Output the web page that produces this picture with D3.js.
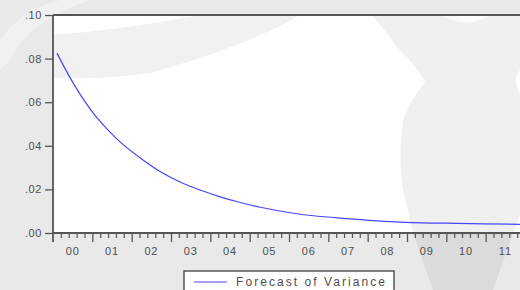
<!DOCTYPE html>
<html><head><meta charset="utf-8">
<script src="https://cdn.jsdelivr.net/npm/d3@7"></script>
<style>html,body{margin:0;padding:0;overflow:hidden;background:#e9e9e9}</style>
</head><body><svg id="c" width="520" height="290"></svg>
<script>
// ---- data ----
const periods  = [2000.10,2000.43,2000.77,2001.11,2001.62,2002.21,2002.72,2003.23,2003.74,2004.25,2004.76,2005.27,2006.03,2006.62,2007.56,2008.12,2008.96,2010.28,2011.88];
const variance = [0.0825,0.0714,0.0614,0.0530,0.0432,0.0345,0.0282,0.0234,0.0197,0.0166,0.0140,0.0118,0.0093,0.0079,0.0065,0.0057,0.0049,0.0044,0.0040];
const years = [2000,2001,2002,2003,2004,2005,2006,2007,2008,2009,2010,2011];
const yearLabels = ["00","01","02","03","04","05","06","07","08","09","10","11"];
const yTicks = [0,0.02,0.04,0.06,0.08,0.10];
const yTickLabels = [".00",".02",".04",".06",".08",".10"];
const seriesName = "Forecast of Variance";

// ---- layout ----
const L = 53, T = 15, B = 233, R = 525;
const svg = d3.select("#c");
const x = d3.scaleLinear().domain([2000, 2012]).range([L, R]);
const y = d3.scaleLinear().domain([0, 0.10]).range([B, T]);
const textCol = "#4f4f4f", axisCol = "#555";

svg.append("rect").attr("width",520).attr("height",290).attr("fill","#e9e9e9");
svg.append("path").attr("d","M0,40 Q20,10 60,0 L90,0 Q30,20 10,60 L0,70 Z").attr("fill","#f1f1f1");

svg.append("rect").attr("x",L).attr("y",T).attr("width",R-L).attr("height",B-T).attr("fill","#fff");
svg.append("clipPath").attr("id","pc").append("rect").attr("x",L).attr("y",T).attr("width",R-L).attr("height",B-T);
const wm = svg.append("g").attr("clip-path","url(#pc)");
wm.append("path").attr("d","M53,35 Q120,30 200,15 L300,15 Q250,45 150,73 Q100,80 53,78 Z").attr("fill","#f1f1f1");
svg.append("path")
  .attr("d","M372,15 Q385,30 395,45 Q420,70 425,82 Q410,100 403,120 Q398,160 403,190 L413,233 L433,290 L493,290 L513,233 L520,215 L520,95 Q512,80 520,70 L520,15 Z")
  .attr("fill","#000").attr("fill-opacity",0.06);
svg.append("path").attr("d","M440,15 Q468,30 490,15 Z").attr("fill","#fff").attr("fill-opacity",0.7);

// ---- axes ----
const yAxis = d3.axisLeft(y).tickValues(yTicks).tickSize(8).tickPadding(3)
  .tickFormat((d,i)=>yTickLabels[i]);
const gy = svg.append("g").attr("transform",`translate(${L},0)`).call(yAxis);
gy.select(".domain").remove();
gy.selectAll(".tick line").attr("stroke",axisCol).attr("stroke-width",1.3);
gy.selectAll(".tick text").attr("fill",textCol).attr("font-family","Liberation Sans, Arial, sans-serif")
  .attr("font-size",11).attr("letter-spacing","0.6px");

const minor = d3.range(0, 60).map(i=>2000+i*0.2).filter(v=>Math.abs(v-Math.round(v))>1e-6);
const gxm = svg.append("g").attr("transform",`translate(0,${B})`)
  .call(d3.axisBottom(x).tickValues(minor).tickSize(5).tickFormat(""));
gxm.select(".domain").remove();
gxm.selectAll(".tick line").attr("stroke",axisCol).attr("stroke-width",1.2);
const gx = svg.append("g").attr("transform",`translate(0,${B})`)
  .call(d3.axisBottom(x).tickValues(years.slice(1)).tickSize(9).tickFormat(""));
gx.select(".domain").remove();
gx.selectAll(".tick line").attr("stroke",axisCol).attr("stroke-width",1.3);

svg.append("g").selectAll("text").data(years).join("text")
  .attr("x",d=>x(d+0.5)).attr("y",B+22).attr("text-anchor","middle")
  .attr("fill",textCol).attr("font-family","Liberation Sans, Arial, sans-serif")
  .attr("font-size",11).attr("letter-spacing","0.8px")
  .text((d,i)=>yearLabels[i]);

svg.append("line").attr("x1",L).attr("x2",L).attr("y1",T).attr("y2",B+9).attr("stroke",axisCol).attr("stroke-width",1.8);
svg.append("line").attr("x1",L).attr("x2",R).attr("y1",B).attr("y2",B).attr("stroke",axisCol).attr("stroke-width",1.8);
svg.append("line").attr("x1",L).attr("x2",R).attr("y1",T).attr("y2",T).attr("stroke",axisCol).attr("stroke-width",1.8);

// ---- series ----
const pts = periods.map((p,i)=>[p, variance[i]]);
svg.append("path").datum(pts)
  .attr("d", d3.line().x(d=>x(d[0])).y(d=>y(d[1])).curve(d3.curveCatmullRom.alpha(0.5)))
  .attr("fill","none").attr("stroke","#4646ff").attr("stroke-width",1.2);

// ---- legend ----
const lg = svg.append("g");
lg.append("rect").attr("x",184).attr("y",271).attr("width",210).attr("height",30)
  .attr("fill","#fff").attr("stroke",axisCol).attr("stroke-width",1.5);
lg.append("line").attr("x1",194).attr("x2",227).attr("y1",282).attr("y2",282)
  .attr("stroke","#4646ff").attr("stroke-width",1.2);
lg.append("text").attr("x",236).attr("y",286).attr("fill",textCol)
  .attr("font-family","Liberation Sans, Arial, sans-serif").attr("font-size",12)
  .attr("textLength",149).attr("lengthAdjust","spacing").text(seriesName);
</script></body></html>
